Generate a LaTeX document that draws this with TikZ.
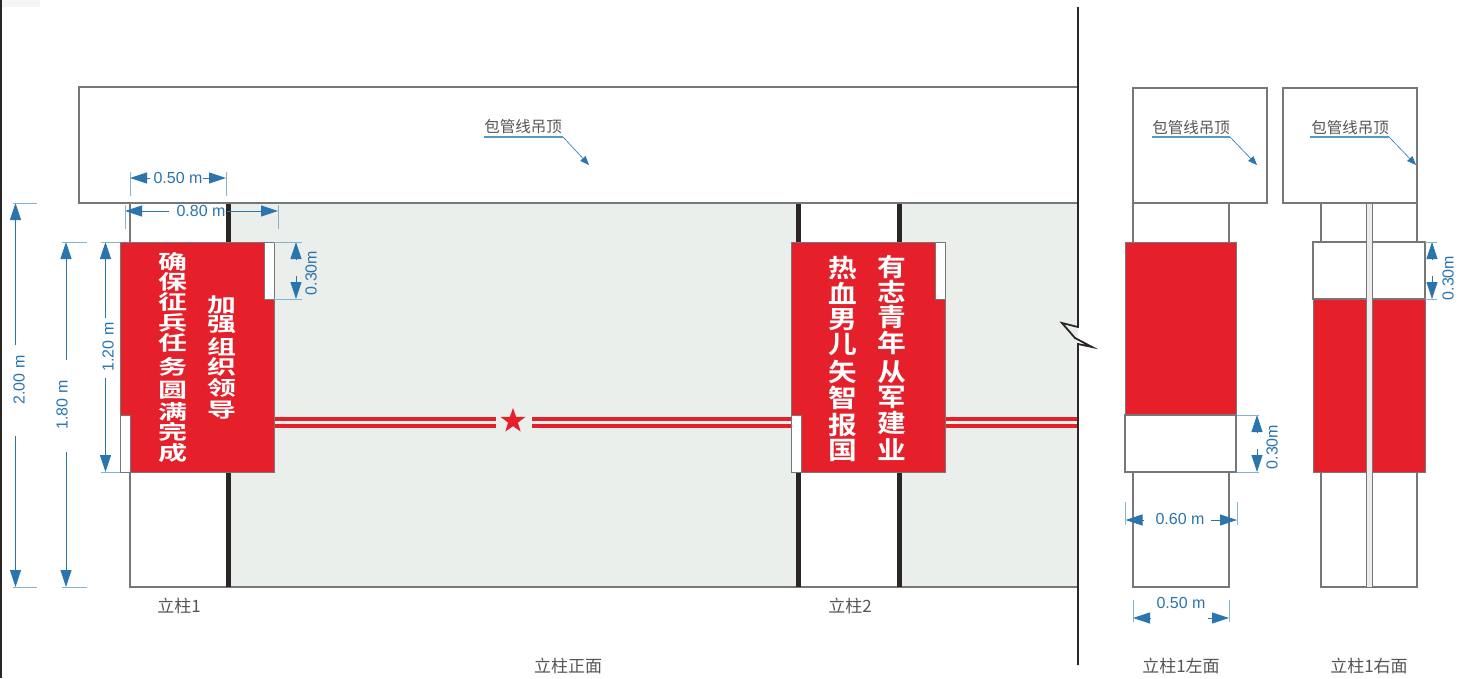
\documentclass[tikz,border=0pt]{standalone}
\usepackage{fontspec}
\setmainfont{Liberation Sans}
\newfontfamily\cjk{Noto Sans CJK SC}
\newfontfamily\cjkb{Noto Sans CJK SC Bold}
\usetikzlibrary{arrows.meta,shapes.geometric}
\definecolor{dimblue}{HTML}{2A75AE}
\definecolor{dimpale}{HTML}{86B3D2}
\definecolor{banner}{HTML}{E5202A}
\definecolor{wallgreen}{HTML}{EAEFEC}
\definecolor{edge}{HTML}{777777}
\definecolor{bar}{HTML}{2B2626}
\definecolor{labelgray}{HTML}{555555}
\definecolor{leaderblue}{HTML}{4F9CC4}
\tikzset{
  box/.style={draw=edge,line width=1.2pt,fill=white},
  redbox/.style={draw=edge,line width=0.9pt,fill=banner},
  thickbar/.style={draw=bar,line width=5pt},
  stripe/.style={draw=banner,line width=4pt},
  dimtip/.style={draw=dimblue,line width=0.8pt,-{Triangle[length=17pt,width=11pt]}},
  dimext/.style={draw=dimpale,line width=0.9pt},
  dimtext/.style={text=dimblue,font=\fontsize{16}{16}\selectfont,inner sep=0pt},
  captiontext/.style={text=labelgray,font=\cjk\fontsize{17}{17}\selectfont,inner sep=0pt},
  leadertext/.style={text=labelgray,font=\cjk\fontsize{15.5}{16}\selectfont,inner sep=0pt},
  leaderline/.style={draw=leaderblue,line width=1.2pt},
  leadertip/.style={draw=dimblue,line width=0.6pt,-{Triangle[length=9pt,width=7pt]}},
  narrowchar/.style={text=white,font=\cjkb\fontsize{20}{20}\selectfont,inner sep=0pt,xscale=1.45},
  widechar/.style={text=white,font=\cjkb\fontsize{25}{25}\selectfont,inner sep=0pt,xscale=1.15},
}
% name, x1, x2, y, ext top, ext bottom, stub left, stub right
\newcommand\hdimen[8]{%
  \coordinate (#1a) at (#2,#4); \coordinate (#1as) at ({#2+#7},#4);
  \coordinate (#1b) at (#3,#4); \coordinate (#1bs) at ({#3-#8},#4);
  \draw[dimtip] (#1as) -- (#1a);
  \draw[dimtip] (#1bs) -- (#1b);
  \draw[dimext] (#2,#5) -- (#2,#6);
  \draw[dimext] (#3,#5) -- (#3,#6);
}
% name, y1, y2, x, ext left, ext right, stub top, stub bottom
\newcommand\vdimen[8]{%
  \coordinate (#1a) at (#4,#2); \coordinate (#1as) at (#4,{#2+#7});
  \coordinate (#1b) at (#4,#3); \coordinate (#1bs) at (#4,{#3-#8});
  \draw[dimtip] (#1as) -- (#1a);
  \draw[dimtip] (#1bs) -- (#1b);
  \draw[dimext] (#5,#2) -- (#6,#2);
  \draw[dimext] (#5,#3) -- (#6,#3);
}
\begin{document}
\begin{tikzpicture}[x=1pt,y=-1pt]
\useasboundingbox (0,0) rectangle (1459,678);
\fill[white] (0,0) rectangle (1459,678);
\fill[black!4] (0,0) rectangle (40,7);
% outer rules
\draw[draw=bar,line width=2pt] (1,0) -- (1,678);
% front elevation
\fill[wallgreen] (228,203) rectangle (1078,587);
\fill[white] (130,203) rectangle (228,587);
\fill[white] (799,203) rectangle (899,587);
\draw[draw=edge,line width=1.2pt] (130,203) -- (130,587) -- (1078,587);
\draw[thickbar] (228.5,203) -- (228.5,587);
\draw[thickbar] (798.5,203) -- (798.5,587);
\draw[thickbar] (899,203) -- (899,587);
\draw[box] (79,87) rectangle (1078,203);
% stripes and star
\foreach \yy in {419,426}{
  \draw[stripe] (274,\yy) -- (496,\yy);
  \draw[stripe] (532,\yy) -- (791,\yy);
  \draw[stripe] (945,\yy) -- (1077,\yy);
}
\node[star,star points=5,star point ratio=2.5,fill=banner,minimum size=26pt,inner sep=0pt] (bigstar) at (513,421) {};
% banners
\draw[redbox] (120,242) rectangle (274,472);
\draw[box,line width=0.9pt] (264,242) rectangle (274,299);
\draw[box,line width=0.9pt] (120,415) rectangle (130,472);
\draw[redbox] (791,242) rectangle (945,472);
\draw[box,line width=0.9pt] (935,242) rectangle (945,299);
\draw[box,line width=0.9pt] (791,415) rectangle (801,472);
% slogans
\foreach \yy/\ch [count=\i] in {262/确,282/保,302/征,323/兵,343/任,367/务,390/圆,412/满,432/完,453/成}
  \node[narrowchar] (sa\i) at (173,\yy) {\ch};
\foreach \yy/\ch [count=\i] in {305/加,325/强,347/组,367/织,388/领,410/导}
  \node[narrowchar] (sb\i) at (222,\yy) {\ch};
\foreach \yy/\ch [count=\i] in {267/有,292/志,317/青,343/年,372/从,397/军,423/建,450/业}
  \node[widechar] (sc\i) at (892,\yy) {\ch};
\foreach \yy/\ch [count=\i] in {268/热,293/血,320/男,345/儿,372/矢,398/智,425/报,450/国}
  \node[widechar] (sd\i) at (843,\yy) {\ch};
% centre break line
\draw[draw=bar,line width=1.8pt,line join=miter] (1078,7) -- (1078,327) -- (1062,323) -- (1075,338) -- (1092,347) -- (1078,344) -- (1078,665);
% left view
\draw[box] (1133,88) rectangle (1267,203);
\draw[box] (1133,203) rectangle (1229,587);
\draw[redbox] (1125,242) rectangle (1236,415);
\draw[box] (1125,415) rectangle (1236,472);
% right view
\draw[box] (1283,88) rectangle (1417,203);
\draw[box] (1321,203) rectangle (1417,587);
\draw[box] (1313,242) rectangle (1425,299);
\draw[redbox] (1313,299) rectangle (1425,472);
\draw[draw=edge,line width=1pt,fill=black!7] (1366,203) rectangle (1372,587);
% leaders
\node[leadertext] (la) at (523,127) {包管线吊顶};
\node[leadertext] (lb) at (1191,128) {包管线吊顶};
\node[leadertext] (lc) at (1350,128) {包管线吊顶};
\coordinate (laA) at (484,137); \coordinate (laB) at (563,137); \coordinate (laC) at (589,165);
\coordinate (lbA) at (1152,137); \coordinate (lbB) at (1230,137); \coordinate (lbC) at (1257,165);
\coordinate (lcA) at (1310,137); \coordinate (lcB) at (1389,137); \coordinate (lcC) at (1416,165);
\foreach \n in {la,lb,lc}{
  \draw[leaderline] (\n A) -- (\n B);
  \draw[leadertip] (\n B) -- (\n C);
}
% dimensions
\hdimen{d50}{130}{226}{178}{172}{196}{20}{23}
\node[dimtext] (t50) at (178,178) {0.50 m};
\hdimen{d80}{125}{278}{211}{205}{229}{44}{51}
\node[dimtext] (t80) at (201,211) {0.80 m};
\vdimen{d200}{203}{587}{15.5}{13}{37}{142}{151}
\node[dimtext,rotate=90] (t200) at (19,380) {2.00 m};
\vdimen{d180}{242}{587}{66}{62}{87}{118}{135}
\node[dimtext,rotate=90] (t180) at (62,405) {1.80 m};
\vdimen{d120}{242}{472}{105.5}{101}{120}{76}{94}
\node[dimtext,rotate=90] (t120) at (108,347) {1.20 m};
\vdimen{d30a}{242}{299}{296}{274}{302}{18}{23}
\node[dimtext,rotate=90] (t30a) at (311,273) {0.30m};
\vdimen{d30b}{415}{472}{1257}{1237}{1259}{18}{23}
\node[dimtext,rotate=90] (t30b) at (1272,447) {0.30m};
\vdimen{d30c}{242}{299}{1432}{1425}{1437}{18}{23}
\node[dimtext,rotate=90] (t30c) at (1448,278) {0.30m};
\hdimen{d60}{1125.5}{1237}{520}{502}{525}{18}{26}
\node[dimtext] (t60) at (1180,519) {0.60 m};
\hdimen{d50b}{1133}{1229}{618}{600}{622}{17}{21}
\node[dimtext] (t50b) at (1181,603) {0.50 m};
% captions
\node[captiontext] (c1) at (179,606) {立柱1};
\node[captiontext] (c2) at (850,606) {立柱2};
\node[captiontext] (c3) at (568,666) {立柱正面};
\node[captiontext] (c4) at (1181,666) {立柱1左面};
\node[captiontext] (c5) at (1369,666) {立柱1右面};
\end{tikzpicture}
\end{document}
